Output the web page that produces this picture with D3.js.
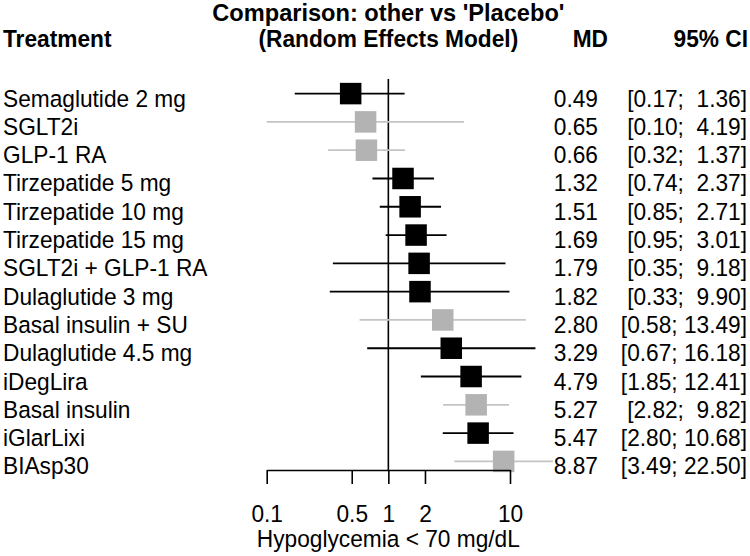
<!DOCTYPE html>
<html>
<head>
<meta charset="utf-8">
<script src="https://cdn.jsdelivr.net/npm/d3@7"></script>
<style>
  html, body { margin: 0; padding: 0; background: #fff; }
  svg { display: block; }
  text { font-family: "Liberation Sans", Arial, Helvetica, sans-serif; font-size: 22.7px; fill: #000; white-space: pre; }
  .bold { font-weight: bold; }
</style>
</head>
<body>
<svg id="chart" width="750" height="556"></svg>
<script>
const treatments = ["Semaglutide 2 mg", "SGLT2i", "GLP-1 RA", "Tirzepatide 5 mg", "Tirzepatide 10 mg",
  "Tirzepatide 15 mg", "SGLT2i + GLP-1 RA", "Dulaglutide 3 mg", "Basal insulin + SU", "Dulaglutide 4.5 mg",
  "iDegLira", "Basal insulin", "iGlarLixi", "BIAsp30"];
const md    = [0.49, 0.65, 0.66, 1.32, 1.51, 1.69, 1.79, 1.82, 2.80, 3.29, 4.79, 5.27, 5.47, 8.87];
const lower = [0.17, 0.10, 0.32, 0.74, 0.85, 0.95, 0.35, 0.33, 0.58, 0.67, 1.85, 2.82, 2.80, 3.49];
const upper = [1.36, 4.19, 1.37, 2.37, 2.71, 3.01, 9.18, 9.90, 13.49, 16.18, 12.41, 9.82, 10.68, 22.50];
const grey  = [false, true, true, false, false, false, false, false, true, false, false, true, false, true];
const tickValues = [0.1, 0.5, 1, 2, 10];
const xLabel = "Hypoglycemia < 70 mg/dL";
const titleLines = ["Comparison: other vs 'Placebo'", "(Random Effects Model)"];

const svg = d3.select("#chart");
const x = d3.scaleLog().domain([0.1, 10]).range([266.7, 510]);
const y = d3.scalePoint().domain(treatments).range([93.6, 461.4]);
const axisY = 470;
const sq = 21.5;
const S = 1.09; // vertical stretch of glyphs, as in the reference
const GREY_FILL = "#b3b3b3", GREY_LINE = "#c4c4c4";
const tr = (px, py, s = S) => `translate(${px},${py}) scale(1,${s})`;

// headers
svg.append("text").attr("class", "bold").attr("transform", tr(3, 47)).text("Treatment");
svg.selectAll("text.title").data(titleLines).join("text")
  .attr("class", "bold title")
  .attr("transform", (d, i) => i === 0 ? tr(x(1), 21, 1.0) : tr(x(1), 47))
  .style("font-size", (d, i) => i === 0 ? "23.6px" : null)
  .attr("text-anchor", "middle").text(d => d);
svg.append("text").attr("class", "bold").attr("transform", tr(608, 47)).attr("text-anchor", "end").text("MD");
svg.append("text").attr("class", "bold").attr("transform", tr(748, 47)).attr("text-anchor", "end").text("95% CI");

// reference line
svg.append("line").attr("x1", x(1)).attr("x2", x(1)).attr("y1", 79).attr("y2", axisY)
  .attr("stroke", "#000").attr("stroke-width", 1.6);

const rows = treatments.map((t, i) => ({ t, md: md[i], lo: lower[i], up: upper[i], g: grey[i] }));

// CI lines
svg.selectAll("line.ci").data(rows).join("line").attr("class", "ci")
  .attr("x1", d => x(d.lo)).attr("x2", d => x(d.up))
  .attr("y1", d => y(d.t)).attr("y2", d => y(d.t))
  .attr("stroke", d => d.g ? GREY_LINE : "#000").attr("stroke-width", 1.8);

// squares
svg.selectAll("rect.pt").data(rows).join("rect").attr("class", "pt")
  .attr("x", d => x(d.md) - sq / 2).attr("y", d => y(d.t) - sq / 2)
  .attr("width", sq).attr("height", sq)
  .attr("fill", d => d.g ? GREY_FILL : "#000");

// labels
svg.selectAll("text.lab").data(rows).join("text").attr("class", "lab")
  .attr("transform", d => tr(3, y(d.t) + 13)).text(d => d.t);
svg.selectAll("text.md").data(rows).join("text").attr("class", "md")
  .attr("transform", d => tr(598, y(d.t) + 13)).attr("text-anchor", "end")
  .text(d => d.md.toFixed(2));
svg.selectAll("text.ciText").data(rows).join("text").attr("class", "ciText")
  .attr("transform", d => tr(747, y(d.t) + 13)).attr("text-anchor", "end")
  .text(d => "[" + d.lo.toFixed(2) + "; " + d.up.toFixed(2).padStart(5, " ") + "]");

// axis
const axis = d3.axisBottom(x).tickValues(tickValues).tickFormat(d => String(d))
  .tickSize(14).tickSizeOuter(0);
const gAxis = svg.append("g").attr("transform", `translate(0,${axisY})`).call(axis);
gAxis.select(".domain").attr("stroke", "#000").attr("stroke-width", 1.6);
gAxis.selectAll(".tick line").attr("stroke", "#000").attr("stroke-width", 1.6);
gAxis.selectAll(".tick text").attr("font-size", null).attr("font-family", null)
  .style("font-size", "22.7px").attr("dy", null).attr("y", 0)
  .attr("transform", `translate(0,52) scale(1,${S})`);

svg.append("text").attr("transform", tr(x(1), 547)).attr("text-anchor", "middle").text(xLabel);
</script>
</body>
</html>
